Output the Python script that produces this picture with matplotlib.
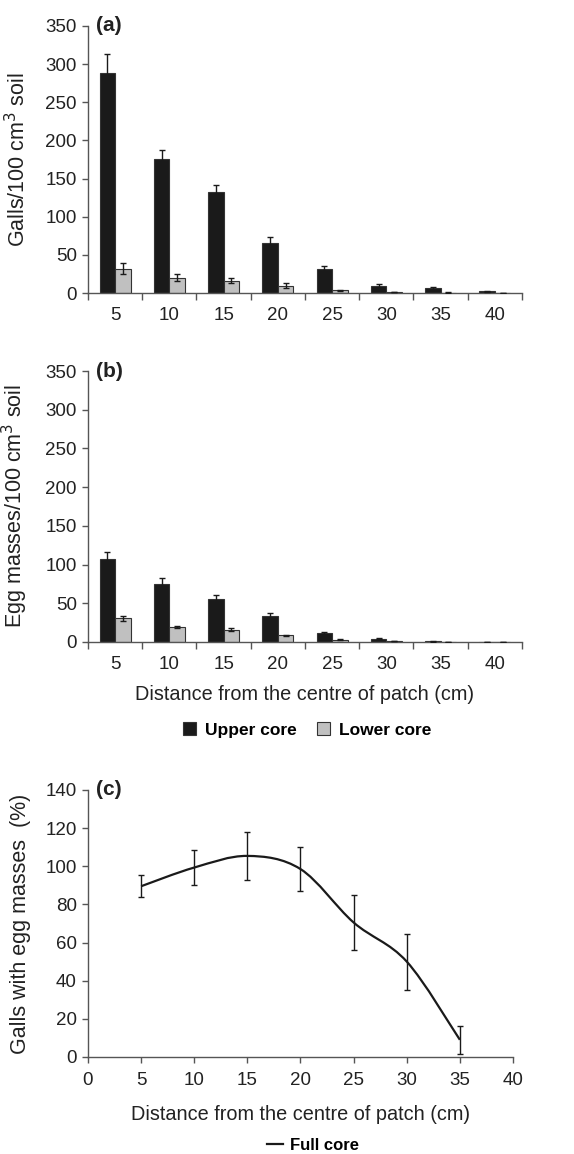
import matplotlib
matplotlib.use("Agg")
import matplotlib.pyplot as plt
from matplotlib.path import Path
from matplotlib.patches import PathPatch
from matplotlib.lines import Line2D

plt.rcParams['font.family'] = ['Liberation Sans', 'DejaVu Sans']

# Data
distances = [5, 10, 15, 20, 25, 30, 35, 40]

galls_upper = [289, 175, 132, 66, 31, 9, 6, 2]
galls_upper_err = [24, 13, 10, 7.5, 4.5, 2.2, 1.6, 0.8]
galls_lower = [32, 20, 16, 9.6, 3.5, 1.0, 0.5, 0.3]
galls_lower_err = [7.5, 4.5, 3.5, 3.0, 1.0, 0.3, 0.2, 0.1]

eggs_upper = [107, 75, 56, 33, 12, 4, 1, 0.3]
eggs_upper_err = [9.5, 8, 5, 4.5, 1.5, 0.8, 0.4, 0.1]
eggs_lower = [30.5, 19.5, 16, 8.5, 3, 1.5, 0.5, 0.3]
eggs_lower_err = [3.4, 1.5, 1.5, 1.0, 0.5, 0.3, 0.1, 0.1]

pct_x = [5, 10, 15, 20, 25, 30, 35]
pct_y = [89.5, 99.3, 105.4, 98.5, 70.5, 50.0, 9.0]
pct_err = [5.7, 9.3, 12.6, 11.7, 14.2, 14.7, 7.4]

DARK = '#1a1a1a'
GREY = '#c0c0c0'
SPINE = '#555555'
TEXT = '#222222'
TICK_FS = 13.5
LABEL_FS = 15.5
TAG_FS = 15


def style_axes(ax):
    for side in ['top', 'right']:
        ax.spines[side].set_visible(False)
    for side in ['left', 'bottom']:
        ax.spines[side].set_color(SPINE)
        ax.spines[side].set_linewidth(1.0)
    ax.tick_params(axis='y', direction='out', length=4, width=1, color=SPINE,
                   labelsize=TICK_FS, labelcolor=TEXT, pad=4)


def bar_panel(ax, upper, upper_err, lower, lower_err, ylabel, tag):
    style_axes(ax)
    idx = list(range(len(distances)))
    w = 0.285
    ax.bar([i - w / 2 for i in idx], upper, w, color=DARK, edgecolor='#333333',
           linewidth=0.8, label='Upper core', zorder=2)
    ax.bar([i + w / 2 for i in idx], lower, w, color=GREY, edgecolor='#333333',
           linewidth=0.8, label='Lower core', zorder=2)
    ax.errorbar([i - w / 2 for i in idx], upper, yerr=upper_err, fmt='none',
                ecolor=DARK, elinewidth=1, capsize=2, capthick=1, zorder=3)
    ax.errorbar([i + w / 2 for i in idx], lower, yerr=lower_err, fmt='none',
                ecolor=DARK, elinewidth=1, capsize=2, capthick=1, zorder=3)
    ax.set_xlim(-0.5, len(distances) - 0.5)
    ax.set_ylim(0, 350)
    ax.set_yticks(range(0, 351, 50))
    ax.set_xticks([i - 0.5 for i in range(len(distances) + 1)])
    ax.set_xticklabels([])
    ax.set_xticks(idx, minor=True)
    ax.set_xticklabels([str(d) for d in distances], minor=True)
    ax.tick_params(axis='x', which='major', direction='out', length=5, width=1,
                   color=SPINE)
    ax.tick_params(axis='x', which='minor', length=0, labelsize=TICK_FS,
                   labelcolor=TEXT, pad=10)
    ax.set_ylabel(ylabel, fontsize=LABEL_FS, color=TEXT)
    ax.yaxis.set_label_coords(-0.134, 0.5)
    ax.text(0.018, 1.0, tag, transform=ax.transAxes, fontsize=TAG_FS,
            fontweight='bold', va='center', ha='left', color=TEXT)


def smooth_path(xs, ys):
    # Excel-style smoothed line through the points (cubic Bezier segments)
    pts = list(zip(xs, ys))
    n = len(pts)
    verts = [pts[0]]
    codes = [Path.MOVETO]
    for i in range(n - 1):
        p0 = pts[i - 1] if i > 0 else pts[i]
        p1 = pts[i]
        p2 = pts[i + 1]
        p3 = pts[i + 2] if i + 2 < n else pts[i + 1]
        c1 = (p1[0] + (p2[0] - p0[0]) / 6, p1[1] + (p2[1] - p0[1]) / 6)
        c2 = (p2[0] - (p3[0] - p1[0]) / 6, p2[1] - (p3[1] - p1[1]) / 6)
        verts += [c1, c2, p2]
        codes += [Path.CURVE4] * 3
    return Path(verts, codes)


fig = plt.figure(figsize=(5.74, 11.54), dpi=100)

ax_a = fig.add_axes([0.1533, 0.7461, 0.756, 0.2314])
bar_panel(ax_a, galls_upper, galls_upper_err, galls_lower, galls_lower_err,
          'Galls/100 cm$^3$ soil', '(a)')

ax_b = fig.add_axes([0.1533, 0.4437, 0.756, 0.2348])
bar_panel(ax_b, eggs_upper, eggs_upper_err, eggs_lower, eggs_lower_err,
          'Egg masses/100 cm$^3$ soil', '(b)')
ax_b.set_xlabel('Distance from the centre of patch (cm)', fontsize=14.3,
                color=TEXT, labelpad=9)

handles, labels = ax_b.get_legend_handles_labels()
fig.legend(handles, labels, loc='center', bbox_to_anchor=(0.535, 1 - 730 / 1154),
           ncol=2, frameon=False, handlelength=0.75, handleheight=0.75,
           handletextpad=0.5, columnspacing=1.2,
           prop={'weight': 'bold', 'size': 12.5})

# Panel (c)
ax_c = fig.add_axes([0.1533, 0.0841, 0.7404, 0.2314])
style_axes(ax_c)
ax_c.add_patch(PathPatch(smooth_path(pct_x, pct_y), fill=False, edgecolor=DARK,
                         linewidth=1.6, zorder=2))
ax_c.errorbar(pct_x, pct_y, yerr=pct_err, fmt='none', ecolor=DARK,
              elinewidth=1, capsize=2.5, capthick=1, zorder=3)
ax_c.set_xlim(0, 40)
ax_c.set_ylim(0, 140)
ax_c.set_xticks(range(0, 41, 5))
ax_c.set_yticks(range(0, 141, 20))
ax_c.tick_params(axis='x', direction='out', length=4, width=1, color=SPINE,
                 labelsize=TICK_FS, labelcolor=TEXT, pad=7)
ax_c.set_xlabel('Distance from the centre of patch (cm)', fontsize=14.3,
                color=TEXT, labelpad=11)
ax_c.set_ylabel('Galls with egg masses  (%)', fontsize=LABEL_FS, color=TEXT)
ax_c.yaxis.set_label_coords(-0.134, 0.5)
ax_c.text(0.018, 1.0, '(c)', transform=ax_c.transAxes, fontsize=TAG_FS,
          fontweight='bold', va='center', ha='left', color=TEXT)

full_handle = Line2D([], [], color=DARK, linewidth=1.6)
fig.legend([full_handle], ['Full core'], loc='center',
           bbox_to_anchor=(0.545, 1 - 1145 / 1154), frameon=False,
           handlelength=1.0, handletextpad=0.4,
           prop={'weight': 'bold', 'size': 12})

fig.savefig('out.png', dpi=100)
